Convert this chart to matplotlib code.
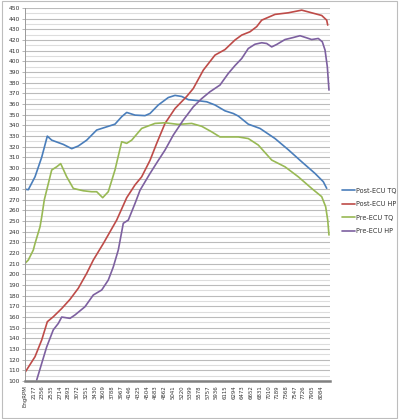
import matplotlib
matplotlib.use("Agg")
import matplotlib.pyplot as plt
from matplotlib.patches import Rectangle

# ---- data ----
tq_post_rpm = [1998, 2066, 2204, 2342, 2457, 2547, 2786, 2959, 3094, 3267, 3473, 3679, 3849, 3987,
               4090, 4261, 4466, 4569, 4740, 4946, 5084, 5221, 5357, 5563, 5736, 5906, 6112, 6283,
               6386, 6591, 6832, 7141, 7414, 7690, 7963, 8134, 8204]
tq_post = [280, 279.5, 291.6, 310, 329.8, 326, 322, 318, 320.5, 326, 335.5, 338.5, 341, 348,
           352, 349.5, 349, 351, 359, 366, 368, 367, 364, 363, 362, 359, 353.5, 351,
           348.6, 341, 337, 327.5, 317, 305.7, 294.8, 287, 280.8]

hp_post_rpm = [1998, 2204, 2342, 2457, 2580, 2753, 2924, 3094, 3267, 3403, 3609, 3884, 4090, 4261,
               4398, 4569, 4707, 4878, 5084, 5324, 5460, 5666, 5906, 6112, 6318, 6456, 6626, 6764,
               6867, 7141, 7414, 7690, 7895, 8101, 8204, 8225]
hp_post = [108, 122.8, 138.5, 155.6, 160.3, 168, 176.6, 187, 201, 213.5, 229, 251, 272, 284,
           291.6, 307, 323, 341.7, 355.7, 367, 374.5, 391.7, 405.8, 411, 420, 424.6, 427.7, 432.5,
           438.6, 444, 445.5, 448, 445.5, 443, 438.6, 434]

tq_pre_rpm = [1998, 2066, 2169, 2204, 2307, 2342, 2395, 2444, 2547, 2650, 2732, 2856, 2992, 3197,
              3370, 3473, 3596, 3711, 3849, 3987, 4090, 4193, 4398, 4672, 4878, 5151, 5427, 5633,
              5838, 6009, 6386, 6591, 6797, 7073, 7346, 7620, 7895, 8101, 8183, 8225, 8251]
tq_pre = [210.4, 213.5, 222.9, 229, 244.7, 254, 270, 279, 298, 301, 304, 291.6, 280.7, 278.5,
          277.6, 277.6, 272, 277.6, 298, 324.5, 323, 326, 337, 341.7, 342.3, 340.8, 341.7, 339,
          333.8, 329, 329, 327.5, 321.4, 307.3, 301, 291.6, 280.7, 273, 263.5, 251, 237]

hp_pre_rpm = [2239, 2342, 2444, 2580, 2683, 2753, 2924, 3027, 3232, 3403, 3576, 3711, 3814, 3917,
              4020, 4123, 4261, 4364, 4569, 4740, 4878, 5049, 5254, 5460, 5633, 5803, 6009, 6180,
              6318, 6456, 6591, 6729, 6867, 6970, 7073, 7176, 7346, 7517, 7655, 7792, 7895, 8031,
              8114, 8170, 8217, 8251]
hp_pre = [101, 116.6, 132, 148, 154, 160, 158.8, 162, 169.7, 180.7, 185.4, 194.7, 207, 222.9,
          248, 251, 266.6, 279, 294.7, 307, 316.7, 330.8, 344.8, 357.3, 365, 371.4, 377.7, 388.6,
          396, 402.6, 412, 416, 417.4, 416.7, 413.5, 415.8, 420.4, 422.3, 424, 422, 420.4, 421.4,
          418.3, 410.5, 394.8, 373]

x_tick_values = [1998 + 179 * i for i in range(35)]
x_tick_labels = ["EngRPM"] + [str(v) for v in x_tick_values[1:]]

series_names = ["Post-ECU TQ", "Post-ECU HP", "Pre-ECU TQ", "Pre-ECU HP"]
series_colors = ["#4A7EBB", "#BE4B48", "#98B954", "#7D60A0"]

# ---- figure ----
fig = plt.figure(figsize=(3.99, 4.19), dpi=100)
fig.patch.set_facecolor("white")
fig.patches.append(Rectangle((0.004, 0.003), 0.992, 0.994, transform=fig.transFigure,
                             fill=False, edgecolor="#BDBDBD", linewidth=0.8))

ax = fig.add_axes([25 / 399, 1 - 381 / 419, (330 - 25) / 399, (381 - 8) / 419])

data = [(tq_post_rpm, tq_post), (hp_post_rpm, hp_post), (tq_pre_rpm, tq_pre), (hp_pre_rpm, hp_pre)]
for (xs, ys), name, col in zip(data, series_names, series_colors):
    ax.plot(xs, ys, color=col, linewidth=1.2, label=name, solid_joinstyle="round",
            solid_capstyle="round")

ax.set_xlim(1998, 8272)
ax.set_ylim(100, 450)

ax.set_yticks(range(100, 451, 10))
ax.set_yticks(range(105, 450, 10), minor=True)
ax.set_yticklabels([str(v) for v in range(100, 451, 10)], fontsize=4.3, color="#333333")
ax.set_xticks(x_tick_values)
ax.set_xticklabels(x_tick_labels, rotation=90, fontsize=3.9, color="#333333")

ax.grid(axis="y", which="major", color="#BBBBBB", linewidth=0.8)
ax.grid(axis="y", which="minor", color="#DDDDDD", linewidth=0.8)
ax.set_axisbelow(True)

for s in ["top", "right"]:
    ax.spines[s].set_visible(False)
ax.spines["left"].set_color("#999999")
ax.spines["left"].set_linewidth(0.7)
ax.spines["bottom"].set_color("#808080")
ax.spines["bottom"].set_linewidth(1.8)
ax.tick_params(axis="y", which="major", length=2, width=0.5, color="#999999", pad=1.5)
ax.tick_params(axis="y", which="minor", length=0)
ax.tick_params(axis="x", length=0, pad=3)

leg = fig.legend(loc="upper left", bbox_to_anchor=(339 / 399, 1 - 185 / 419), frameon=False,
                 fontsize=4.7, handlelength=2.0, handletextpad=0.2, labelspacing=1.15,
                 borderaxespad=0)
for t in leg.get_texts():
    t.set_color("#333333")

fig.savefig("out.png", dpi=100, facecolor="white")
